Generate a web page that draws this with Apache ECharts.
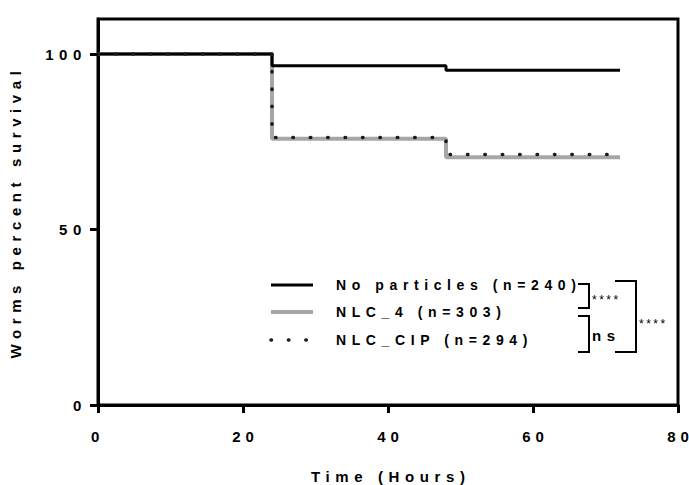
<!DOCTYPE html>
<html>
<head>
<meta charset="utf-8">
<script src="https://cdn.jsdelivr.net/npm/echarts@6/dist/echarts.min.js"></script>
<style>
  html, body { margin: 0; padding: 0; background: #fff; }
  #chart { width: 689px; height: 485px; }
  /* Prism-style wide tracking on every label */
  #chart text { letter-spacing: 5.6px; }
</style>
</head>
<body>
<div id="chart"></div>
<script>
// Kaplan-Meier survival, percent alive at each observation time
const hours = [0, 24, 48, 72];
const noParticles = [100, 96.7, 95.4, 95.4];
const nlc4 = [100, 75.9, 70.6, 70.6];
const nlcCip = [100, 76.2, 71.4, 71.4];

const xTicks = [0, 20, 40, 60, 80];
const yTicks = [0, 50, 100];

const seriesNames = ['No particles (n=240)', 'NLC_4 (n=303)', 'NLC_CIP (n=294)'];
const comparisonLabels = ['****', 'ns', '****'];

const FONT = '"Liberation Sans", Arial, sans-serif';
const TRACK = 5.6;
const pairs = ys => hours.map((h, i) => [h, ys[i]]);

const dotDash = [0.5, 16.9];

const chart = echarts.init(document.getElementById('chart'), null, { renderer: 'svg' });

const legendRows = [
  { y: 285, stroke: '#000', width: 3, dash: null },
  { y: 312, stroke: '#a6a6a6', width: 4, dash: null },
  { y: 340, stroke: '#1a1a1a', width: 3.5, dash: dotDash }
];

const graphics = [];
legendRows.forEach((r, i) => {
  graphics.push({
    type: 'line', silent: true,
    shape: { x1: 271, y1: r.y, x2: 313, y2: r.y },
    style: { stroke: r.stroke, lineWidth: r.width, lineDash: r.dash, lineCap: r.dash ? 'round' : 'butt' }
  });
  graphics.push({
    type: 'text', silent: true, x: 336, y: r.y,
    style: { text: seriesNames[i], fill: '#000', font: 'bold 14px ' + FONT, verticalAlign: 'middle', align: 'left' }
  });
});

// significance brackets
const brackets = [
  [[578, 284], [589, 284], [589, 308], [578, 308]],
  [[578, 316], [589, 316], [589, 352], [578, 352]],
  [[615, 281], [636, 281], [636, 352], [615, 352]]
];
brackets.forEach(pts => graphics.push({
  type: 'polyline', silent: true,
  shape: { points: pts },
  style: { stroke: '#000', lineWidth: 2, fill: null }
}));
graphics.push({ type: 'text', silent: true, x: 592, y: 300,
  style: { text: comparisonLabels[0], fill: '#000', font: '12px ' + FONT, verticalAlign: 'middle' } });
graphics.push({ type: 'text', silent: true, x: 592, y: 335,
  style: { text: comparisonLabels[1], fill: '#000', font: 'bold 15px ' + FONT, verticalAlign: 'middle' } });
graphics.push({ type: 'text', silent: true, x: 639, y: 324,
  style: { text: comparisonLabels[2], fill: '#000', font: '12px ' + FONT, verticalAlign: 'middle' } });

chart.setOption({
  animation: false,
  backgroundColor: '#fff',
  grid: {
    left: 98, right: 11, top: 19, bottom: 80,
    outerBoundsMode: 'none', containLabel: false,
    show: true, borderColor: '#000', borderWidth: 3, backgroundColor: 'transparent'
  },
  xAxis: {
    type: 'value', min: 0, max: 80, interval: 20,
    name: 'Time (Hours)', nameLocation: 'middle', nameGap: 64,
    nameTextStyle: { fontFamily: FONT, fontWeight: 'bold', fontSize: 15, color: '#000', padding: [0, 0, 0, TRACK] },
    axisLine: { show: true, onZero: false, lineStyle: { color: '#000', width: 3 } },
    axisTick: { show: true, inside: false, length: 8, lineStyle: { color: '#000', width: 3 }, customValues: xTicks },
    axisLabel: { margin: 24, fontFamily: FONT, fontWeight: 'bold', fontSize: 15, color: '#000', customValues: xTicks },
    splitLine: { show: false }
  },
  yAxis: {
    type: 'value', min: 0, max: 110, interval: 50,
    name: 'Worms percent survival', nameLocation: 'middle', nameGap: 75, nameRotate: 90,
    nameTextStyle: { fontFamily: FONT, fontWeight: 'bold', fontSize: 15, color: '#000' },
    axisLine: { show: true, onZero: false, lineStyle: { color: '#000', width: 3 } },
    axisTick: { show: true, inside: false, length: 8, lineStyle: { color: '#000', width: 3 }, customValues: yTicks },
    axisLabel: { margin: 11, fontFamily: FONT, fontWeight: 'bold', fontSize: 15, color: '#000', customValues: yTicks },
    splitLine: { show: false }
  },
  series: [
    {
      name: seriesNames[1], type: 'line', step: 'end', data: pairs(nlc4),
      symbol: 'none', z: 2,
      lineStyle: { color: '#a6a6a6', width: 4 }
    },
    {
      name: seriesNames[0], type: 'line', step: 'end', data: pairs(noParticles),
      symbol: 'none', z: 3,
      lineStyle: { color: '#000', width: 3 }
    },
    {
      name: seriesNames[2], type: 'line', step: 'end', data: pairs(nlcCip),
      symbol: 'none', z: 4,
      lineStyle: { color: '#1a1a1a', width: 3.5, type: dotDash, cap: 'round' }
    }
  ],
  graphic: graphics
});

// per-label tracking: tight for the star labels; two-digit x ticks are spread
// with textLength so no trailing space pushes them off-centre
const xTickStrings = xTicks.map(String);
document.querySelectorAll('#chart text').forEach(t => {
  const s = t.textContent.trim();
  if (s === '****') {
    t.style.letterSpacing = '2.5px';
  } else if (xTickStrings.includes(s) && s.length === 2) {
    t.style.letterSpacing = '0px';
    t.setAttribute('textLength', '21.5');
    t.setAttribute('lengthAdjust', 'spacing');
  }
});
</script>
</body>
</html>
